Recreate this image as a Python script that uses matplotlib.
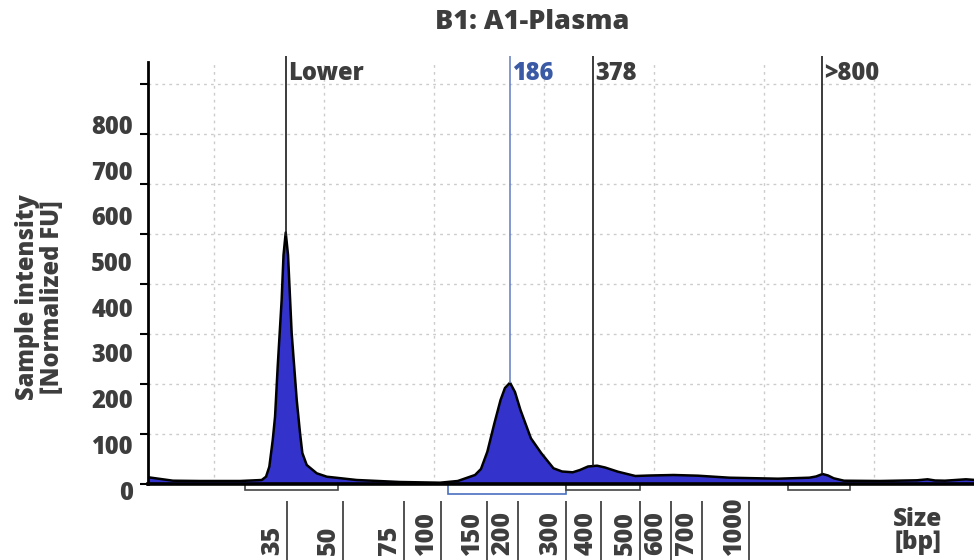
import matplotlib
matplotlib.use("Agg")
import numpy as np
import matplotlib.pyplot as plt
from matplotlib.transforms import ScaledTranslation
from matplotlib.patches import Rectangle

plt.rcParams['font.family'] = ['Open Sans', 'DejaVu Sans']
plt.rcParams['font.weight'] = 800

# migration position (grid units) and normalized intensity (FU)
position = [0.403, 0.627, 0.873, 1.236, 1.434, 1.473, 1.503, 1.534, 1.555, 1.579,
            1.615, 1.632, 1.652, 1.673, 1.706, 1.752, 1.782, 1.803, 1.843, 1.934,
            2.025, 2.297, 2.691, 3.055, 3.216, 3.373, 3.427, 3.485, 3.549, 3.605,
            3.645, 3.691, 3.736, 3.786, 3.881, 3.976, 4.086, 4.164, 4.261, 4.327,
            4.400, 4.482, 4.555, 4.672, 4.830, 4.964, 5.178, 5.400, 5.685, 6.127,
            6.412, 6.473, 6.532, 6.582, 6.634, 6.727, 7.055, 7.391, 7.487, 7.555,
            7.645, 7.836, 7.924]
intensity = [13.4, 6.6, 6.0, 6.0, 8.0, 14.6, 34.6, 88.0, 134.6, 234.6,
             368.0, 458.0, 503.0, 458.0, 302.0, 168.0, 102.0, 62.0, 38.0, 21.4,
             14.6, 8.0, 4.0, 2.6, 6.0, 18.0, 30.0, 64.6, 121.4, 168.0,
             192.0, 202.6, 184.0, 148.0, 91.4, 61.4, 31.4, 25.0, 23.4, 28.0,
             35.0, 36.6, 33.0, 24.6, 16.0, 17.0, 18.0, 16.6, 12.6, 10.6,
             12.6, 15.0, 20.0, 17.0, 11.4, 6.6, 6.0, 7.4, 9.4, 7.0,
             6.6, 9.4, 8.0]

ladder_labels = ['35', '50', '75', '100', '150', '200', '300', '400', '500', '600', '700', '1000']
ladder_pos = [1.666, 2.175, 2.730, 3.064, 3.485, 3.761, 4.200, 4.515, 4.875, 5.152, 5.434, 5.864]

marker_labels = ['Lower', '186', '378', '>800']
marker_pos = [1.655, 3.691, 4.445, 6.527]

region_start = [1.282, 3.127, 4.200, 6.218]
region_end = [2.127, 4.200, 4.873, 6.782]

ytick_values = [0, 100, 200, 300, 400, 500, 600, 700, 800]

TXT = '#3d3d3d'
BLUE_TXT = '#3a5aa6'

fig = plt.figure(figsize=(9.74, 5.6), dpi=100)
ax = fig.add_axes([148 / 974, 76 / 560, 826 / 974, 422 / 560])
ax.set_xlim(0.4, 7.909)
ax.set_ylim(0, 844)

# grid
ax.set_xticks(range(1, 8))
ax.set_yticks(ytick_values)
ax.grid(True, color='#cccccc', linestyle=(0, (2, 3)), linewidth=1)
ax.tick_params(axis='x', length=0, labelbottom=False)
ax.tick_params(axis='y', length=6, width=1.5, color='black', labelleft=False, direction='out')
ax.set_axisbelow(True)

for s in ['top', 'right']:
    ax.spines[s].set_visible(False)
ax.spines['left'].set_linewidth(2)
ax.spines['bottom'].set_linewidth(2.6)
ax.spines['bottom'].set_zorder(5)

# trace
ax.fill_between(position, 0, intensity, color='#3333cc', linewidth=0, zorder=2)
ax.plot(position, intensity, color='black', linewidth=1.8, zorder=3)

# y labels (as drawn in reference, slightly compressed scale)
ytr = ax.get_yaxis_transform()
for v in ytick_values:
    ax.text(-15 / 826, 0.914 * v - 18, str(v), transform=ytr, ha='right', va='center',
            fontsize=17, color=TXT, clip_on=False)

# markers
for lab, p in zip(marker_labels, marker_pos):
    yb = float(np.interp(p, position, intensity))
    is_blue = lab == '186'
    ax.vlines(p, yb, 856, colors='#6d86c6' if is_blue else '#1a1a1a', linewidth=1.2,
              clip_on=False, zorder=4)
    ax.text(p, 820, lab, ha='left', va='center', fontsize=17,
            color=BLUE_TXT if is_blue else TXT,
            transform=ax.transData + ScaledTranslation(0.02, 0, fig.dpi_scale_trans))

# region boxes
for i, (s, e) in enumerate(zip(region_start, region_end)):
    h = 20 if i == 1 else 12
    ec = '#4a6fc0' if i == 1 else '#444444'
    ax.add_patch(Rectangle((s, -h), e - s, h, facecolor='white', edgecolor=ec,
                           linewidth=1.2, clip_on=False, zorder=4))

# ladder ticks and labels
xtr = ax.get_xaxis_transform()
ax.vlines(ladder_pos, -0.0403, -0.19, transform=xtr, colors='#333333', linewidth=1.2, clip_on=False)
for lab, p in zip(ladder_labels, ladder_pos):
    ax.text(p, -0.168, lab, rotation=90, ha='right', va='bottom', fontsize=18, color=TXT,
            transform=xtr + ScaledTranslation(-0.025, 0, fig.dpi_scale_trans), clip_on=False)

# axis titles
fig.text(918 / 974, 1 - 531 / 560, 'Size\n[bp]', ha='center', va='center', fontsize=17.5,
         color=TXT, linespacing=0.9)
fig.text(40 / 974, 1 - 297 / 560, 'Sample intensity\n[Normalized FU]', rotation=90,
         ha='center', va='center', fontsize=17, color=TXT, linespacing=1.0,
         multialignment='center')
fig.text(532 / 974, 1 - 22 / 560, 'B1: A1-Plasma', ha='center', va='center', fontsize=19.5,
         color=TXT)

fig.savefig('out.png', dpi=100)
